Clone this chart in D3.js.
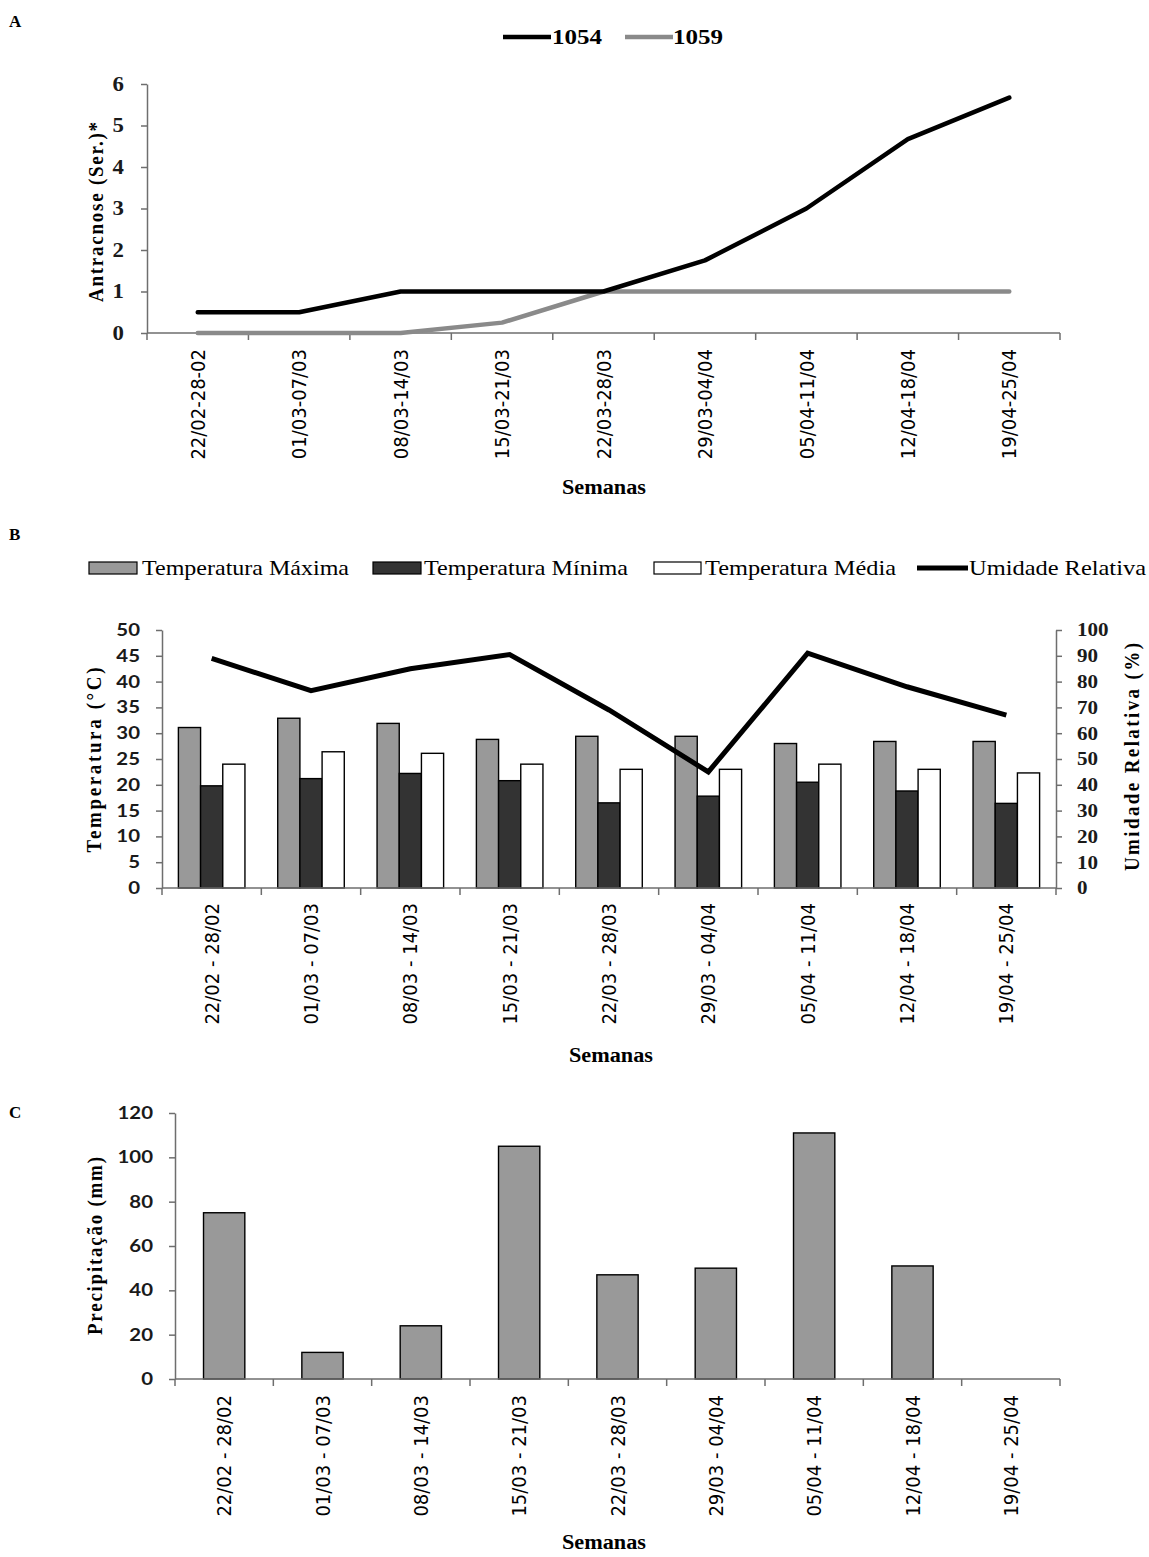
<!DOCTYPE html>
<html>
<head>
<meta charset="utf-8">
<script src="https://cdn.jsdelivr.net/npm/d3@7"></script>
<style>
  body { margin: 0; background: #fff; }
  svg { display: block; }
</style>
</head>
<body>
<svg id="fig" width="1149" height="1557"></svg>
<script>
// ---- data -------------------------------------------------------------
const semanasA = ["22/02-28-02", "01/03-07/03", "08/03-14/03", "15/03-21/03", "22/03-28/03",
                  "29/03-04/04", "05/04-11/04", "12/04-18/04", "19/04-25/04"];
const semanasBC = ["22/02 - 28/02", "01/03 - 07/03", "08/03 - 14/03", "15/03 - 21/03", "22/03 - 28/03",
                   "29/03 - 04/04", "05/04 - 11/04", "12/04 - 18/04", "19/04 - 25/04"];

// A: anthracnose severity per genotype
const sev1054 = [0.5, 0.5, 1, 1, 1, 1.75, 3, 4.67, 5.67];
const sev1059 = [0, 0, 0, 0.25, 1, 1, 1, 1, 1];
const ticksSev = [0, 1, 2, 3, 4, 5, 6];

// B: weekly temperatures (°C) and relative humidity (%)
const tempMaxima = [31.1, 32.9, 31.9, 28.8, 29.4, 29.4, 28.0, 28.4, 28.4];
const tempMinima = [19.8, 21.2, 22.2, 20.8, 16.5, 17.8, 20.5, 18.8, 16.4];
const tempMedia  = [24.0, 26.4, 26.1, 24.0, 23.0, 23.0, 24.0, 23.0, 22.3];
const umidadeRelativa = [89, 76.5, 85, 90.5, 69, 45, 91, 78, 67];
const ticksTemp = [0, 5, 10, 15, 20, 25, 30, 35, 40, 45, 50];
const ticksUmid = [0, 10, 20, 30, 40, 50, 60, 70, 80, 90, 100];

// C: weekly rainfall (mm)
const precipitacao = [75, 12, 24, 105, 47, 50, 111, 51, 0];
const ticksPrec = [0, 20, 40, 60, 80, 100, 120];

// ---- styling ----------------------------------------------------------
const SERIF = "'Liberation Serif', 'Times New Roman', serif";
const SANS = "Lato, 'Open Sans', sans-serif";
const VERD = "'DejaVu Sans', Verdana, sans-serif";
const AXIS_COLOR = "#6e6e6e";
const WIDEN = 1.14;   // horizontal widening applied to the lettering

const svg = d3.select("#fig");
svg.append("rect").attr("width", 1149).attr("height", 1557).attr("fill", "#fff");

function addText(g, txt, x, y, opts) {
  const sx = opts.sx || WIDEN;
  const t = g.append("text").attr("x", 0).attr("y", 0).text(txt)
    .attr("font-family", opts.family || SERIF)
    .attr("font-size", opts.size || 18)
    .attr("font-weight", opts.weight || "normal")
    .attr("fill", opts.fill || "#000")
    .attr("text-anchor", opts.anchor || "start")
    .attr("transform", `translate(${x},${y}) scale(${sx},1)` + (opts.rotate ? ` rotate(${opts.rotate})` : ""));
  if (opts.len) t.attr("textLength", opts.len).attr("lengthAdjust", opts.adjust || "spacingAndGlyphs");
  return t;
}

// category axis: ticks at band boundaries, rotated labels centred in each band
function categoryAxis(g, x, y0, labelGap, fontSize) {
  const ax = d3.axisBottom(x).tickSize(0).tickPadding(0);
  const ga = g.append("g").attr("transform", `translate(0,${y0})`).call(ax);
  ga.select(".domain").remove();
  ga.selectAll(".tick text")
    .attr("transform", "scale(1.1,1) rotate(-90)")
    .attr("text-anchor", "end")
    .attr("x", -labelGap).attr("y", 0).attr("dy", "0.36em")
    .attr("font-family", VERD).attr("font-size", fontSize).attr("fill", "#000");
  const [r0, r1] = x.range();
  const bounds = x.domain().map(d => x(d)).concat([r1]);
  g.append("line").attr("x1", r0).attr("x2", r1).attr("y1", y0).attr("y2", y0)
    .attr("stroke", AXIS_COLOR).attr("stroke-width", 1.5);
  g.selectAll(null).data(bounds).enter().append("line")
    .attr("x1", d => d).attr("x2", d => d).attr("y1", y0).attr("y2", y0 + 7)
    .attr("stroke", AXIS_COLOR).attr("stroke-width", 1.5);
}

function valueAxis(g, y, xPos, ticks, side, family, weight, size, pad, sx) {
  const ax = (side === "left" ? d3.axisLeft(y) : d3.axisRight(y))
    .tickValues(ticks).tickFormat(d3.format("d"))
    .tickSize(6).tickSizeOuter(0).tickPadding(pad);
  const ga = g.append("g").attr("transform", `translate(${xPos},0)`).call(ax);
  ga.select(".domain").attr("stroke", AXIS_COLOR).attr("stroke-width", 1.5);
  ga.selectAll(".tick line").attr("stroke", AXIS_COLOR).attr("stroke-width", 1.5);
  ga.selectAll(".tick text").attr("font-family", family).attr("font-weight", weight)
    .attr("font-size", size).attr("fill", "#1a1a1a")
    .each(function () {
      const t = d3.select(this);
      const x0 = +t.attr("x");
      t.attr("x", 0).attr("transform", `translate(${x0},0) scale(${sx},1)`);
    });
}

// ======================= A: severity lines ==============================
{
  const g = svg.append("g");
  addText(g, "A", 9, 27, { size: 17, weight: "bold", sx: 1 });

  const xA = d3.scaleBand().domain(semanasA).range([147, 1060]);
  const yA = d3.scaleLinear().domain([0, 6]).range([333, 84]);

  valueAxis(g, yA, 147, ticksSev, "left", SERIF, "bold", 20, 17, WIDEN);
  categoryAxis(g, xA, 333, 16, 18);

  const cx = (i) => xA(semanasA[i]) + xA.bandwidth() / 2;
  const line = d3.line().x((d, i) => cx(i)).y(d => yA(d));

  g.append("path").datum(sev1059).attr("d", line)
    .attr("fill", "none").attr("stroke", "#8a8a8a").attr("stroke-width", 4.5)
    .attr("stroke-linejoin", "round").attr("stroke-linecap", "round");
  g.append("path").datum(sev1054).attr("d", line)
    .attr("fill", "none").attr("stroke", "#000").attr("stroke-width", 4.5)
    .attr("stroke-linejoin", "round").attr("stroke-linecap", "round");

  // legend
  g.append("line").attr("x1", 503).attr("x2", 551).attr("y1", 37).attr("y2", 37)
    .attr("stroke", "#000").attr("stroke-width", 4.5);
  addText(g, "1054", 552, 44, { size: 20, weight: "bold", sx: 1, len: 50 });
  g.append("line").attr("x1", 625).attr("x2", 673).attr("y1", 37).attr("y2", 37)
    .attr("stroke", "#8a8a8a").attr("stroke-width", 4.5);
  addText(g, "1059", 673, 44, { size: 20, weight: "bold", sx: 1, len: 50 });

  addText(g, "Antracnose  (Ser.)*", 103, 212, { size: 19, weight: "bold", anchor: "middle", rotate: -90, len: 180, adjust: "spacing" });
  addText(g, "Semanas", 604, 494, { size: 20, weight: "bold", anchor: "middle", sx: 1, len: 84 });
}

// ============== B: temperatures (bars) + humidity (line) ================
{
  const g = svg.append("g");
  addText(g, "B", 9, 540, { size: 17, weight: "bold", sx: 1 });

  const xB = d3.scaleBand().domain(semanasBC).range([162, 1056]);
  const yT = d3.scaleLinear().domain([0, 50]).range([888, 630]);
  const yU = d3.scaleLinear().domain([0, 100]).range([888, 630]);
  const series = [
    { key: "max", values: tempMaxima, fill: "#999999" },
    { key: "min", values: tempMinima, fill: "#333333" },
    { key: "med", values: tempMedia, fill: "#ffffff" }
  ];
  const bw = xB.bandwidth();
  const xSub = d3.scaleBand().domain(series.map(s => s.key)).range([bw * 0.165, bw * 0.835]);

  series.forEach(s => {
    g.selectAll(null).data(s.values).enter().append("rect")
      .attr("x", (d, i) => xB(semanasBC[i]) + xSub(s.key))
      .attr("width", xSub.bandwidth())
      .attr("y", d => yT(d))
      .attr("height", d => yT(0) - yT(d))
      .attr("fill", s.fill).attr("stroke", "#000").attr("stroke-width", 1.4);
  });

  valueAxis(g, yT, 162, ticksTemp, "left", SANS, "bold", 17, 16, 1.2);
  valueAxis(g, yU, 1056, ticksUmid, "right", SERIF, "bold", 18.5, 15, WIDEN);
  categoryAxis(g, xB, 888, 15, 18);

  const lineU = d3.line().x((d, i) => xB(semanasBC[i]) + bw / 2).y(d => yU(d));
  g.append("path").datum(umidadeRelativa).attr("d", lineU)
    .attr("fill", "none").attr("stroke", "#000").attr("stroke-width", 5)
    .attr("stroke-linejoin", "miter");

  // legend
  const ly = 568;
  g.append("rect").attr("x", 89).attr("y", ly - 6).attr("width", 48).attr("height", 12)
    .attr("fill", "#999999").attr("stroke", "#000").attr("stroke-width", 1.2);
  addText(g, "Temperatura Máxima", 142, ly + 7, { size: 21, sx: 1, len: 207 });
  g.append("rect").attr("x", 373).attr("y", ly - 6).attr("width", 48).attr("height", 12)
    .attr("fill", "#333333").attr("stroke", "#000").attr("stroke-width", 1.2);
  addText(g, "Temperatura Mínima", 424, ly + 7, { size: 21, sx: 1, len: 204 });
  g.append("rect").attr("x", 654).attr("y", ly - 6).attr("width", 47).attr("height", 12)
    .attr("fill", "#ffffff").attr("stroke", "#000").attr("stroke-width", 1.2);
  addText(g, "Temperatura Média", 705, ly + 7, { size: 21, sx: 1, len: 191 });
  g.append("line").attr("x1", 917).attr("x2", 968).attr("y1", ly).attr("y2", ly)
    .attr("stroke", "#000").attr("stroke-width", 5);
  addText(g, "Umidade Relativa", 969, ly + 7, { size: 21, sx: 1, len: 177 });

  addText(g, "Temperatura  (°C)", 101, 760, { size: 19, weight: "bold", anchor: "middle", rotate: -90, len: 185, adjust: "spacing" });
  addText(g, "Umidade  Relativa  (%)", 1139, 757, { size: 19, weight: "bold", anchor: "middle", rotate: -90, len: 228, adjust: "spacing" });
  addText(g, "Semanas", 611, 1062, { size: 20, weight: "bold", anchor: "middle", sx: 1, len: 84 });
}

// ======================= C: rainfall bars ===============================
{
  const g = svg.append("g");
  addText(g, "C", 9, 1118, { size: 17, weight: "bold", sx: 1 });

  const xC = d3.scaleBand().domain(semanasBC).range([175, 1060]);
  const yC = d3.scaleLinear().domain([0, 120]).range([1379, 1113]);
  const bw = xC.bandwidth();

  g.selectAll(null).data(precipitacao.map((v, i) => ({ v, semana: semanasBC[i] })))
    .enter().filter(d => d.v > 0).append("rect")
    .attr("x", d => xC(d.semana) + bw * 0.29)
    .attr("width", bw * 0.42)
    .attr("y", d => yC(d.v))
    .attr("height", d => yC(0) - yC(d.v))
    .attr("fill", "#999999").attr("stroke", "#000").attr("stroke-width", 1.4);

  valueAxis(g, yC, 175, ticksPrec, "left", SANS, "bold", 17, 16, 1.2);
  categoryAxis(g, xC, 1379, 16, 18);

  addText(g, "Precipitação  (mm)", 102, 1246, { size: 19, weight: "bold", anchor: "middle", rotate: -90, len: 178, adjust: "spacing" });
  addText(g, "Semanas", 604, 1549, { size: 20, weight: "bold", anchor: "middle", sx: 1, len: 84 });
}
</script>
</body>
</html>
